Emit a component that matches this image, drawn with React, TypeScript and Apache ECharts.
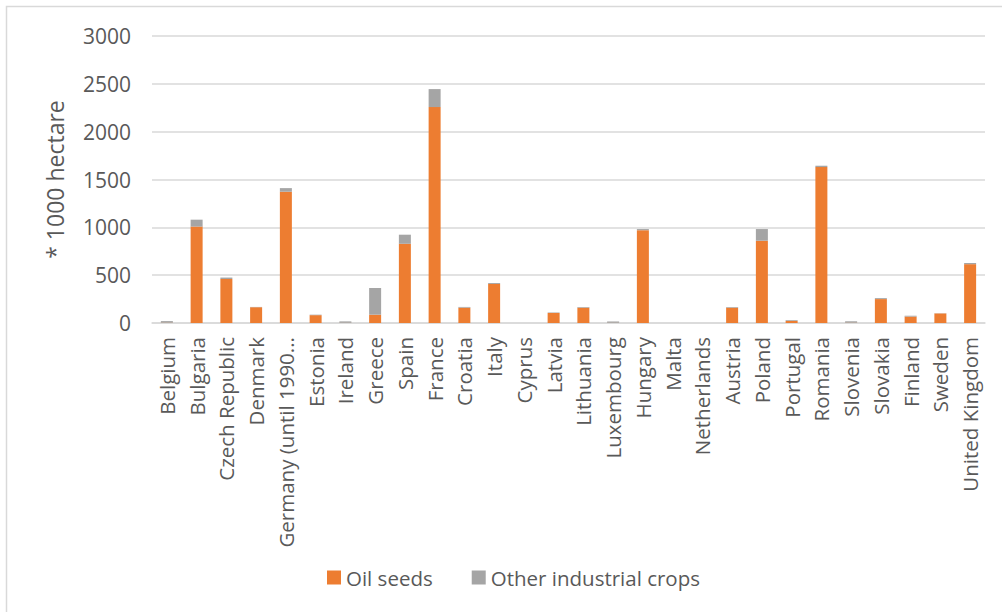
import React, { useEffect, useRef } from "react";
import * as echarts from "echarts";

// Area by crop type per country, in thousands of hectares
const categories = [
  "Belgium",
  "Bulgaria",
  "Czech Republic",
  "Denmark",
  "Germany (until 1990...",
  "Estonia",
  "Ireland",
  "Greece",
  "Spain",
  "France",
  "Croatia",
  "Italy",
  "Cyprus",
  "Latvia",
  "Lithuania",
  "Luxembourg",
  "Hungary",
  "Malta",
  "Netherlands",
  "Austria",
  "Poland",
  "Portugal",
  "Romania",
  "Slovenia",
  "Slovakia",
  "Finland",
  "Sweden",
  "United Kingdom",
];

const oilSeeds = [
  3, 1008, 460, 165, 1372, 82, 2, 87, 828, 2257, 160, 408, 0, 105, 160, 2, 970,
  0, 0, 160, 860, 22, 1630, 3, 250, 67, 100, 615,
];

const otherIndustrialCrops = [
  17, 72, 15, 3, 38, 5, 15, 279, 95, 188, 8, 10, 0, 5, 7, 14, 12, 0, 0, 7, 122,
  8, 14, 15, 10, 9, 2, 12,
];

const seriesNames = ["Oil seeds", "Other industrial crops"];
const axisTitle = "* 1000 hectare";

const FONT = "'Open Sans', 'Noto Sans', sans-serif";
const TEXT = "#595959";
const GRID = "#d9d9d9";

export default function App() {
  const ref = useRef<HTMLDivElement>(null);

  useEffect(() => {
    if (!ref.current) return;
    const chart = echarts.init(ref.current, undefined, { renderer: "svg" });
    chart.setOption({
      animation: false,
      backgroundColor: "#ffffff",
      textStyle: { fontFamily: FONT },
      graphic: [
        {
          type: "rect",
          silent: true,
          shape: { x: 6.5, y: 6.5, width: 1010, height: 620 },
          style: { fill: "none", stroke: GRID, lineWidth: 1.5 },
        },
      ],
      grid: { left: 152, right: 17, top: 36, height: 287 },
      legend: {
        bottom: 19,
        left: 322,
        itemWidth: 14,
        itemHeight: 14,
        itemGap: 39,
        icon: "rect",
        textStyle: { color: TEXT, fontSize: 20.5, fontFamily: FONT },
        data: seriesNames,
      },
      xAxis: {
        type: "category",
        data: categories,
        axisLine: { show: true, lineStyle: { color: GRID, width: 1.5 } },
        axisTick: { show: false },
        axisLabel: {
          rotate: 90,
          interval: 0,
          margin: 14,
          color: TEXT,
          fontSize: 20.5,
          fontFamily: FONT,
        },
      },
      yAxis: {
        type: "value",
        min: 0,
        max: 3000,
        interval: 500,
        name: axisTitle,
        nameLocation: "middle",
        nameRotate: 90,
        nameGap: 86,
        nameTextStyle: { color: TEXT, fontSize: 23, fontFamily: FONT },
        axisLine: { show: false },
        axisTick: { show: false },
        axisLabel: {
          color: TEXT,
          fontSize: 21,
          fontFamily: FONT,
          margin: 21,
          formatter: (v: number) => String(v),
        },
        splitLine: { lineStyle: { color: GRID, width: 1.5 } },
      },
      series: [
        {
          name: seriesNames[0],
          type: "bar",
          stack: "area",
          barWidth: 12,
          itemStyle: { color: "#ED7D31" },
          data: oilSeeds,
        },
        {
          name: seriesNames[1],
          type: "bar",
          stack: "area",
          barWidth: 12,
          itemStyle: { color: "#A5A5A5" },
          data: otherIndustrialCrops,
        },
      ],
    });
    return () => chart.dispose();
  }, []);

  return (
    <div
      ref={ref}
      style={{ position: "absolute", left: 0, top: 0, width: 1002, height: 612 }}
    />
  );
}
